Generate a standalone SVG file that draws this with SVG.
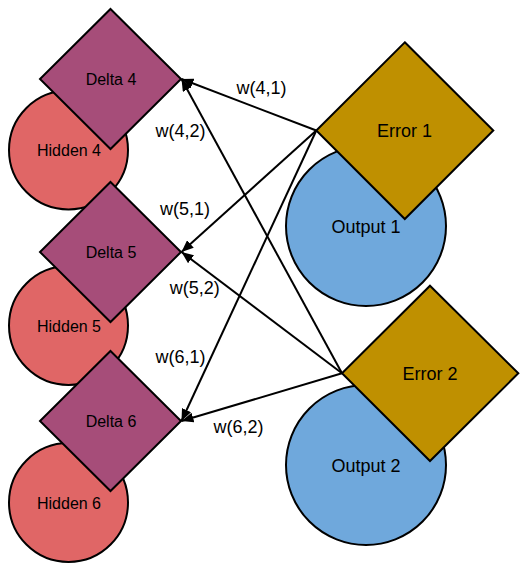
<svg xmlns="http://www.w3.org/2000/svg" width="528" height="568" viewBox="0 0 528 568">
  <style>
    .hidden { fill: #E06666; stroke: #000; stroke-width: 2; }
    .delta { fill: #A64D79; stroke: #000; stroke-width: 2; stroke-linejoin: miter; }
    .output { fill: #6FA8DC; stroke: #000; stroke-width: 2; }
    .error { fill: #BF9000; stroke: #000; stroke-width: 2; }
    .conn { fill: none; stroke: #000; stroke-width: 2; marker-end: url(#arr); }
    .t16 { font-family: "Liberation Sans", Arial, sans-serif; font-size: 16px; fill: #000; text-anchor: middle; }
    .t18 { font-family: "Liberation Sans", Arial, sans-serif; font-size: 18px; fill: #000; text-anchor: middle; }
  </style>
  <defs>
    <marker id="arr" markerWidth="12" markerHeight="10" refX="12" refY="5" orient="auto" markerUnits="userSpaceOnUse">
      <path d="M0,0 L12,5 L0,10 z" fill="#000"/>
    </marker>
  </defs>
  <rect width="528" height="568" fill="#fff"/>

  <g id="hidden4"><circle class="hidden" cx="68.5" cy="150" r="59.5"/><text class="t16" x="69" y="155.5">Hidden 4</text></g>
  <g id="hidden5"><circle class="hidden" cx="68.5" cy="325.5" r="59.5"/><text class="t16" x="69" y="332">Hidden 5</text></g>
  <g id="hidden6"><circle class="hidden" cx="68.5" cy="502.5" r="59.5"/><text class="t16" x="69" y="509">Hidden 6</text></g>

  <g id="delta4"><polygon class="delta" points="110.5,9 181,79 110.5,149 40,79"/><text class="t16" x="111" y="84.5">Delta 4</text></g>
  <g id="delta5"><polygon class="delta" points="110.5,182 181,252 110.5,322 40,252"/><text class="t16" x="111" y="257.5">Delta 5</text></g>
  <g id="delta6"><polygon class="delta" points="110.5,351 181,421 110.5,491 40,421"/><text class="t16" x="111" y="426.5">Delta 6</text></g>

  <g id="output1"><circle class="output" cx="366" cy="226" r="80"/><text class="t18" x="366" y="232.5">Output 1</text></g>
  <g id="output2"><circle class="output" cx="366" cy="465" r="80"/><text class="t18" x="366" y="471.5">Output 2</text></g>

  <g id="error1"><polygon class="error" points="404.8,42.3 493.3,130.5 404.8,219 316.3,130.5"/><text class="t18" x="404.5" y="137">Error 1</text></g>
  <g id="error2"><polygon class="error" points="430,285.7 518.3,373.3 430,461 342,373.3"/><text class="t18" x="430" y="380">Error 2</text></g>

  <g id="connectors">
    <line class="conn" x1="316.3" y1="130.5" x2="181.5" y2="79"/>
    <line class="conn" x1="316.3" y1="130.5" x2="181.5" y2="252"/>
    <line class="conn" x1="316.3" y1="130.5" x2="181.5" y2="421"/>
    <line class="conn" x1="342" y1="373.3" x2="181.5" y2="79"/>
    <line class="conn" x1="342" y1="373.3" x2="181.5" y2="252"/>
    <line class="conn" x1="342" y1="373.3" x2="181.5" y2="421"/>
  </g>

  <g id="labels">
    <text class="t18" x="261.5" y="94">w(4,1)</text>
    <text class="t18" x="180.5" y="137">w(4,2)</text>
    <text class="t18" x="185" y="214.5">w(5,1)</text>
    <text class="t18" x="194.7" y="294">w(5,2)</text>
    <text class="t18" x="180.5" y="362.5">w(6,1)</text>
    <text class="t18" x="238.5" y="432.5">w(6,2)</text>
  </g>
</svg>
